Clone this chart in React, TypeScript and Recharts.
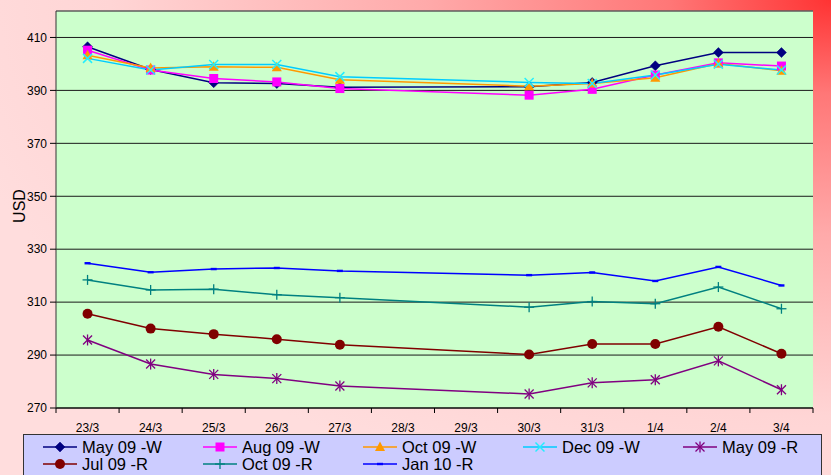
import React from 'react';
import { LineChart, Line, XAxis, YAxis, CartesianGrid, Legend, ReferenceLine } from 'recharts';

const categories = ['23/3', '24/3', '25/3', '26/3', '27/3', '28/3', '29/3', '30/3', '31/3', '1/4', '2/4', '3/4'];
const may09W = [406.5, 397.9, 392.9, 392.6, 391.2, null, null, 391.4, 393.0, 399.3, 404.3, 404.3];
const aug09W = [405.2, 397.7, 394.5, 393.2, 390.7, null, null, 388.2, 390.4, 395.8, 400.4, 399.2];
const oct09W = [403.3, 398.5, 398.9, 398.7, 394.0, null, null, 391.6, 392.6, 394.8, 400.2, 397.4];
const dec09W = [402.1, 397.7, 399.8, 399.8, 395.2, null, null, 393.0, 392.6, 395.8, 399.9, 397.7];
const may09R = [295.7, 286.6, 282.7, 281.1, 278.3, null, null, 275.3, 279.5, 280.7, 287.8, 276.9];
const jul09R = [305.6, 300.0, 297.9, 296.0, 293.9, null, null, 290.2, 294.2, 294.2, 300.7, 290.5];
const oct09R = [318.4, 314.6, 314.9, 312.8, 311.7, null, null, 308.1, 310.2, 309.4, 315.7, 307.5];
const jan10R = [324.7, 321.3, 322.5, 322.9, 321.8, null, null, 320.2, 321.2, 318.0, 323.3, 316.3];
const yTicks = [270, 290, 310, 330, 350, 370, 390, 410];
const yDomain = [270, 420];

type Shape = 'diamond' | 'square' | 'triangle' | 'x' | 'star' | 'circle' | 'plus' | 'dash';

const series: { key: string; name: string; values: (number | null)[]; color: string; marker: string; shape: Shape }[] = [
  { key: 's0', name: 'May 09 -W', values: may09W, color: '#000080', marker: '#000080', shape: 'diamond' },
  { key: 's1', name: 'Aug 09 -W', values: aug09W, color: '#FF00FF', marker: '#FF00FF', shape: 'square' },
  { key: 's2', name: 'Oct 09 -W', values: oct09W, color: '#FF9900', marker: '#FF9900', shape: 'triangle' },
  { key: 's3', name: 'Dec 09 -W', values: dec09W, color: '#00CCFF', marker: '#22EEFF', shape: 'x' },
  { key: 's4', name: 'May 09 -R', values: may09R, color: '#800080', marker: '#800080', shape: 'star' },
  { key: 's5', name: 'Jul 09 -R', values: jul09R, color: '#800000', marker: '#800000', shape: 'circle' },
  { key: 's6', name: 'Oct 09 -R', values: oct09R, color: '#008080', marker: '#008080', shape: 'plus' },
  { key: 's7', name: 'Jan 10 -R', values: jan10R, color: '#0000FF', marker: '#0000FF', shape: 'dash' },
];

const data = categories.map((c, i) => {
  const row: Record<string, any> = { cat: c };
  series.forEach((s) => { row[s.key] = s.values[i]; });
  return row;
});

const W = 831;
const H = 475;
const PLOT_LEFT = 56;
const PLOT_RIGHT = 813;
const PLOT_TOP = 11;
const PLOT_BOTTOM = 408;
const X_AXIS_H = 30;
const BAND = (PLOT_RIGHT - PLOT_LEFT) / categories.length;
const FONT = '"Liberation Sans", Arial, sans-serif';

const Marker = ({ shape, x, y, color }: { shape: Shape; x: number; y: number; color: string }) => {
  switch (shape) {
    case 'diamond':
      return <polygon points={`${x},${y - 5} ${x + 5},${y} ${x},${y + 5} ${x - 5},${y}`} fill={color} stroke={color} strokeWidth={0.5} />;
    case 'square':
      return <rect x={x - 4.5} y={y - 4.5} width={9} height={9} fill={color} />;
    case 'triangle':
      return <polygon points={`${x},${y - 5.5} ${x + 5},${y + 4} ${x - 5},${y + 4}`} fill={color} />;
    case 'x':
      return (
        <g stroke={color} strokeWidth={1.5}>
          <line x1={x - 4.5} y1={y - 4.5} x2={x + 4.5} y2={y + 4.5} />
          <line x1={x - 4.5} y1={y + 4.5} x2={x + 4.5} y2={y - 4.5} />
        </g>
      );
    case 'star':
      return (
        <g stroke={color} strokeWidth={1.3}>
          <line x1={x - 4.5} y1={y - 4.5} x2={x + 4.5} y2={y + 4.5} />
          <line x1={x - 4.5} y1={y + 4.5} x2={x + 4.5} y2={y - 4.5} />
          <line x1={x} y1={y - 5.5} x2={x} y2={y + 5.5} />
        </g>
      );
    case 'circle':
      return <circle cx={x} cy={y} r={5} fill={color} />;
    case 'plus':
      return (
        <g stroke={color} strokeWidth={1.3}>
          <line x1={x - 5} y1={y} x2={x + 5} y2={y} />
          <line x1={x} y1={y - 5} x2={x} y2={y + 5} />
        </g>
      );
    case 'dash':
      return <rect x={x - 3} y={y - 1.2} width={6} height={2.4} fill={color} />;
  }
  return null;
};

const makeDot = (shape: Shape, color: string) => (props: any) => {
  const { cx, cy, index, value } = props;
  if (cx == null || cy == null || value == null || Number.isNaN(cy)) return <g key={`d${index}`} />;
  return <Marker key={`d${index}`} shape={shape} x={cx} y={cy} color={color} />;
};

const XTick = (props: any) => {
  const { x, payload, index } = props;
  const last = index === categories.length - 1;
  return (
    <g>
      <line x1={x - BAND / 2} x2={x - BAND / 2} y1={PLOT_BOTTOM} y2={PLOT_BOTTOM + 5} stroke="#000" />
      {last && <line x1={x + BAND / 2} x2={x + BAND / 2} y1={PLOT_BOTTOM} y2={PLOT_BOTTOM + 5} stroke="#000" />}
      <text x={x} y={PLOT_BOTTOM + 24} textAnchor="middle" fontSize={12} fill="#000" fontFamily={FONT}>
        {payload.value}
      </text>
    </g>
  );
};

const LegendContent = () => (
  <div
    style={{
      width: '100%',
      height: '100%',
      boxSizing: 'border-box',
      background: '#CCCCFF',
      border: '1px solid #333',
      paddingTop: 4,
      paddingLeft: 18,
      fontFamily: FONT,
      fontSize: 16.5,
      color: '#000',
      display: 'grid',
      gridTemplateColumns: 'repeat(5, 160px)',
      gridAutoRows: '16.5px',
    }}
  >
    {series.map((s) => (
      <div key={s.key} style={{ display: 'flex', alignItems: 'center', whiteSpace: 'nowrap', lineHeight: '16.5px' }}>
        <svg width={36} height={14} style={{ marginRight: 4, flex: 'none' }}>
          <line x1={1} x2={35} y1={7} y2={7} stroke={s.color} strokeWidth={1.5} />
          <Marker shape={s.shape} x={18} y={7} color={s.marker} />
        </svg>
        <span>{s.name}</span>
      </div>
    ))}
  </div>
);

const UsdLabel = () => (
  <text
    x={19}
    y={206}
    transform="rotate(-90, 19, 206)"
    textAnchor="middle"
    dominantBaseline="central"
    fontSize={16}
    fontFamily={FONT}
    fill="#000"
  >
    USD
  </text>
);

export default function App() {
  return (
    <div
      style={{
        position: 'absolute',
        left: 0,
        top: 0,
        width: W,
        height: H,
        overflow: 'hidden',
        background:
          'radial-gradient(ellipse 900px 520px at 100% 0%, #ff3333 0%, #ff7777 18%, #ffaaaa 45%, #ffd5d5 80%, #ffdddd 100%)',
      }}
    >
      <LineChart
        width={W}
        height={H}
        data={data}
        margin={{ top: PLOT_TOP, right: W - PLOT_RIGHT, left: 0, bottom: H - PLOT_BOTTOM - X_AXIS_H }}
      >
        <CartesianGrid vertical={false} fill="#CCFFCC" stroke="#1a1a1a" fillOpacity={1} />
        <XAxis
          dataKey="cat"
          interval={0}
          height={X_AXIS_H}
          padding={{ left: BAND / 2, right: BAND / 2 }}
          tickLine={false}
          axisLine={{ stroke: '#000' }}
          tick={<XTick />}
        />
        <YAxis
          width={PLOT_LEFT}
          domain={yDomain}
          ticks={yTicks}
          allowDataOverflow
          tickSize={6}
          tickMargin={3}
          tickLine={{ stroke: '#000' }}
          axisLine={{ stroke: '#333' }}
          tick={{ fontSize: 12, fill: '#000', fontFamily: FONT }}
          label={<UsdLabel />}
        />
        <YAxis
          yAxisId="right"
          orientation="right"
          width={0}
          domain={yDomain}
          tick={false}
          tickLine={false}
          axisLine={{ stroke: '#808080' }}
        />
        <ReferenceLine y={420} stroke="#808080" />
        {series.map((s) => (
          <Line
            key={s.key}
            type="linear"
            dataKey={s.key}
            name={s.name}
            stroke={s.color}
            strokeWidth={1.5}
            connectNulls
            isAnimationActive={false}
            dot={makeDot(s.shape, s.marker)}
            activeDot={false}
          />
        ))}
        <Legend
          layout="horizontal"
          verticalAlign="middle"
          align="center"
          content={<LegendContent />}
          wrapperStyle={{ position: 'absolute', left: 23, top: 434, width: 799, height: 50 }}
        />
      </LineChart>
    </div>
  );
}
